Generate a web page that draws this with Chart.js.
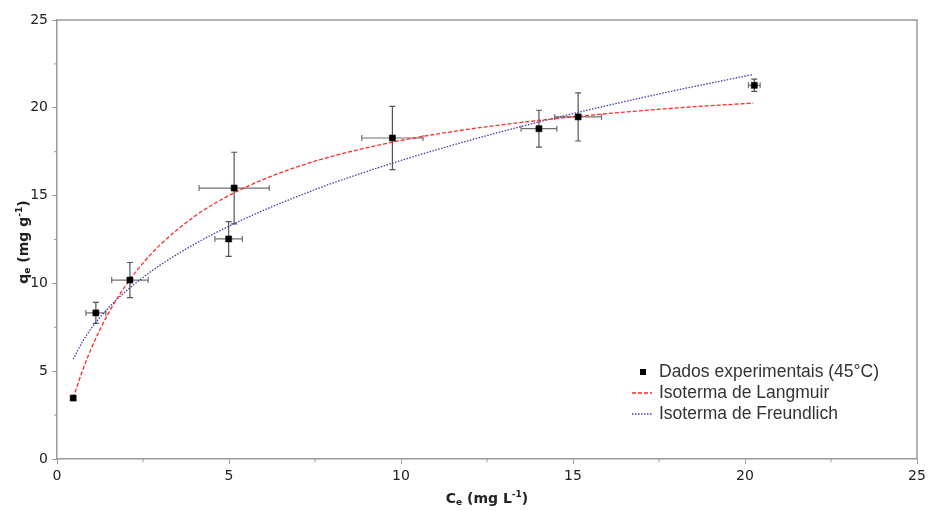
<!DOCTYPE html>
<html>
<head>
<meta charset="utf-8">
<script src="https://cdn.jsdelivr.net/npm/chart.js@4.4.1/dist/chart.umd.min.js"></script>
<style>
  body { margin: 0; background: #fff; }
  #wrap { width: 931px; height: 511px; }
</style>
</head>
<body>
<div id="wrap"><canvas id="isotherm_chart" width="931" height="511"></canvas></div>
<script>
// experimental points (45 C) with their error bars
const ceExp = [0.47, 1.13, 2.12, 4.99, 5.15, 9.75, 14.01, 15.15, 20.27];
const qeExp = [3.47, 8.32, 10.19, 12.53, 15.43, 18.28, 18.81, 19.48, 21.28];
const ceErr = [0, 0.29, 0.53, 0.40, 1.02, 0.89, 0.52, 0.68, 0.17];
const qeErr = [0, 0.60, 1.00, 0.99, 2.04, 1.80, 1.05, 1.37, 0.35];

// fitted curves
const curveCe = [0.47, 0.75, 1, 1.5, 2, 2.5, 3, 4, 5, 6, 7, 8, 10, 12, 14, 16, 18, 20.24];
const langmuirQe = [3.47, 5.08, 6.31, 8.32, 9.89, 11.16, 12.20, 13.82, 15.01, 15.92, 16.65, 17.24, 18.14, 18.79, 19.28, 19.67, 19.99, 20.27];
const freundlichQe = [5.68, 6.71, 7.45, 8.61, 9.55, 10.34, 11.04, 12.24, 13.26, 14.16, 14.96, 15.70, 17.00, 18.15, 19.19, 20.13, 21.00, 21.90];

const xTicks = [0, 5, 10, 15, 20, 25];
const yTicks = [0, 5, 10, 15, 20, 25];

const legendLabels = ['Dados experimentais (45°C)', 'Isoterma de Langmuir', 'Isoterma de Freundlich'];

var expPoints = [];
for (i = 0; i < ceExp.length; i++) {
  expPoints.push({ x: ceExp[i], y: qeExp[i] });
}
var langPoints = [];
var freundPoints = [];
for (i = 0; i < curveCe.length; i++) {
  langPoints.push({ x: curveCe[i], y: langmuirQe[i] });
  freundPoints.push({ x: curveCe[i], y: freundlichQe[i] });
}

const AXIS_GREY = '#9a9a9a';
const tickFont = { family: 'DejaVu Sans', size: 14 };

// error bars, box, minor ticks, axis titles and legend
const extras = {
  id: 'extras',
  beforeDatasetsDraw(chart) {
    var ctx = chart.ctx;
    var xs = chart.scales.x, ys = chart.scales.y;
    ctx.save();
    ctx.lineWidth = 1.2;
    for (i = 0; i < ceExp.length; i++) {
      var px = xs.getPixelForValue(ceExp[i]);
      var py = ys.getPixelForValue(qeExp[i]);
      ctx.strokeStyle = '#707070';
      if (ceErr[i] > 0) {
        var x1 = xs.getPixelForValue(ceExp[i] - ceErr[i]);
        var x2 = xs.getPixelForValue(ceExp[i] + ceErr[i]);
        ctx.beginPath();
        ctx.moveTo(x1, py); ctx.lineTo(x2, py);
        ctx.moveTo(x1, py - 3); ctx.lineTo(x1, py + 3);
        ctx.moveTo(x2, py - 3); ctx.lineTo(x2, py + 3);
        ctx.stroke();
      }
      ctx.strokeStyle = '#555555';
      if (qeErr[i] > 0) {
        var y1 = ys.getPixelForValue(qeExp[i] - qeErr[i]);
        var y2 = ys.getPixelForValue(qeExp[i] + qeErr[i]);
        ctx.beginPath();
        ctx.moveTo(px, y1); ctx.lineTo(px, y2);
        ctx.moveTo(px - 3, y1); ctx.lineTo(px + 3, y1);
        ctx.moveTo(px - 3, y2); ctx.lineTo(px + 3, y2);
        ctx.stroke();
      }
    }
    ctx.restore();
  },
  afterDraw(chart) {
    var ctx = chart.ctx;
    var a = chart.chartArea;
    var xs = chart.scales.x, ys = chart.scales.y;
    ctx.save();

    // top and right border
    ctx.strokeStyle = AXIS_GREY;
    ctx.lineWidth = 1.5;
    ctx.beginPath();
    ctx.moveTo(a.left, a.top); ctx.lineTo(a.right, a.top); ctx.lineTo(a.right, a.bottom);
    ctx.stroke();

    // minor ticks
    ctx.lineWidth = 1;
    ctx.beginPath();
    for (v = 2.5; v < 25; v += 5) {
      var mx = xs.getPixelForValue(v);
      ctx.moveTo(mx, a.bottom); ctx.lineTo(mx, a.bottom + 3);
      var my = ys.getPixelForValue(v);
      ctx.moveTo(a.left, my); ctx.lineTo(a.left - 3, my);
    }
    ctx.stroke();

    // axis titles with sub/superscripts
    ctx.fillStyle = '#222';
    ctx.textBaseline = 'alphabetic';
    function titleParts(parts) {
      var w = 0;
      parts.forEach(function (p) {
        ctx.font = 'bold ' + p.size + 'px "DejaVu Sans"';
        p.w = ctx.measureText(p.t).width;
        w += p.w;
      });
      return w;
    }
    function drawParts(parts, x0, base) {
      var x = x0;
      parts.forEach(function (p) {
        ctx.font = 'bold ' + p.size + 'px "DejaVu Sans"';
        ctx.fillText(p.t, x, base + p.dy);
        x += p.w;
      });
    }
    var xt = [
      { t: 'C', size: 14, dy: 0 }, { t: 'e', size: 9, dy: 2 },
      { t: ' (mg L', size: 14, dy: 0 }, { t: '-1', size: 9, dy: -6 }, { t: ')', size: 14, dy: 0 }
    ];
    var wx = titleParts(xt);
    drawParts(xt, (a.left + a.right) / 2 - wx / 2, 503);

    var yt = [
      { t: 'q', size: 14, dy: 0 }, { t: 'e', size: 9, dy: 2 },
      { t: ' (mg g', size: 14, dy: 0 }, { t: '-1', size: 9, dy: -6 }, { t: ')', size: 14, dy: 0 }
    ];
    var wy = titleParts(yt);
    ctx.save();
    ctx.translate(28, 242);
    ctx.rotate(-Math.PI / 2);
    drawParts(yt, -wy / 2, 0);
    ctx.restore();

    // legend in the lower right corner
    var lx = a.right - 285;
    var ly = a.bottom - 87;
    ctx.font = '17.5px "Liberation Sans"';
    ctx.textBaseline = 'middle';
    ctx.fillStyle = '#000';
    ctx.fillRect(lx + 8, ly - 3, 6, 6);
    ctx.fillStyle = '#333';
    ctx.fillText(legendLabels[0], lx + 27, ly);

    ctx.lineWidth = 1.3;
    ctx.strokeStyle = '#ff2a2a';
    ctx.setLineDash([4, 2]);
    ctx.beginPath();
    ctx.moveTo(lx, ly + 21); ctx.lineTo(lx + 20, ly + 21);
    ctx.stroke();
    ctx.fillText(legendLabels[1], lx + 27, ly + 21);

    ctx.strokeStyle = '#3c3caa';
    ctx.setLineDash([1.5, 1.5]);
    ctx.beginPath();
    ctx.moveTo(lx, ly + 42); ctx.lineTo(lx + 20, ly + 42);
    ctx.stroke();
    ctx.setLineDash([]);
    ctx.fillText(legendLabels[2], lx + 27, ly + 42);

    ctx.restore();
  }
};

var ctx = document.getElementById('isotherm_chart').getContext('2d');
var isothermChart = new Chart(ctx, {
  type: 'scatter',
  data: {
    datasets: [
      {
        label: legendLabels[0],
        data: expPoints,
        pointStyle: 'rect',
        pointRadius: 4.3,
        backgroundColor: '#000',
        borderColor: '#000',
        borderWidth: 0.5,
        order: 0
      },
      {
        label: legendLabels[1],
        data: langPoints,
        showLine: true,
        borderColor: '#ff2a2a',
        borderWidth: 1.3,
        borderDash: [4, 2],
        pointRadius: 0,
        cubicInterpolationMode: 'monotone',
        order: 1
      },
      {
        label: legendLabels[2],
        data: freundPoints,
        showLine: true,
        borderColor: '#3c3caa',
        borderWidth: 1.3,
        borderDash: [1.5, 1.5],
        pointRadius: 0,
        cubicInterpolationMode: 'monotone',
        order: 2
      }
    ]
  },
  options: {
    responsive: false,
    animation: false,
    layout: { padding: { top: 20, right: 14, left: 0, bottom: 0 } },
    plugins: {
      legend: { display: false },
      tooltip: { enabled: false }
    },
    scales: {
      x: {
        type: 'linear',
        min: 0,
        max: 25,
        afterFit: function (scale) { scale.height = 52; },
        afterBuildTicks: function (scale) { scale.ticks = xTicks.map(function (v) { return { value: v }; }); },
        ticks: { font: tickFont, color: '#222', padding: 4, maxRotation: 0, autoSkip: false },
        grid: { drawOnChartArea: false, tickLength: 5, color: AXIS_GREY },
        border: { color: AXIS_GREY, width: 1.5 }
      },
      y: {
        type: 'linear',
        min: 0,
        max: 25,
        afterFit: function (scale) { scale.width = 57; },
        afterBuildTicks: function (scale) { scale.ticks = yTicks.map(function (v) { return { value: v }; }); },
        ticks: { font: tickFont, color: '#222', padding: 4, autoSkip: false },
        grid: { drawOnChartArea: false, tickLength: 5, color: AXIS_GREY },
        border: { color: AXIS_GREY, width: 1.5 }
      }
    }
  },
  plugins: [extras]
});
</script>
</body>
</html>
